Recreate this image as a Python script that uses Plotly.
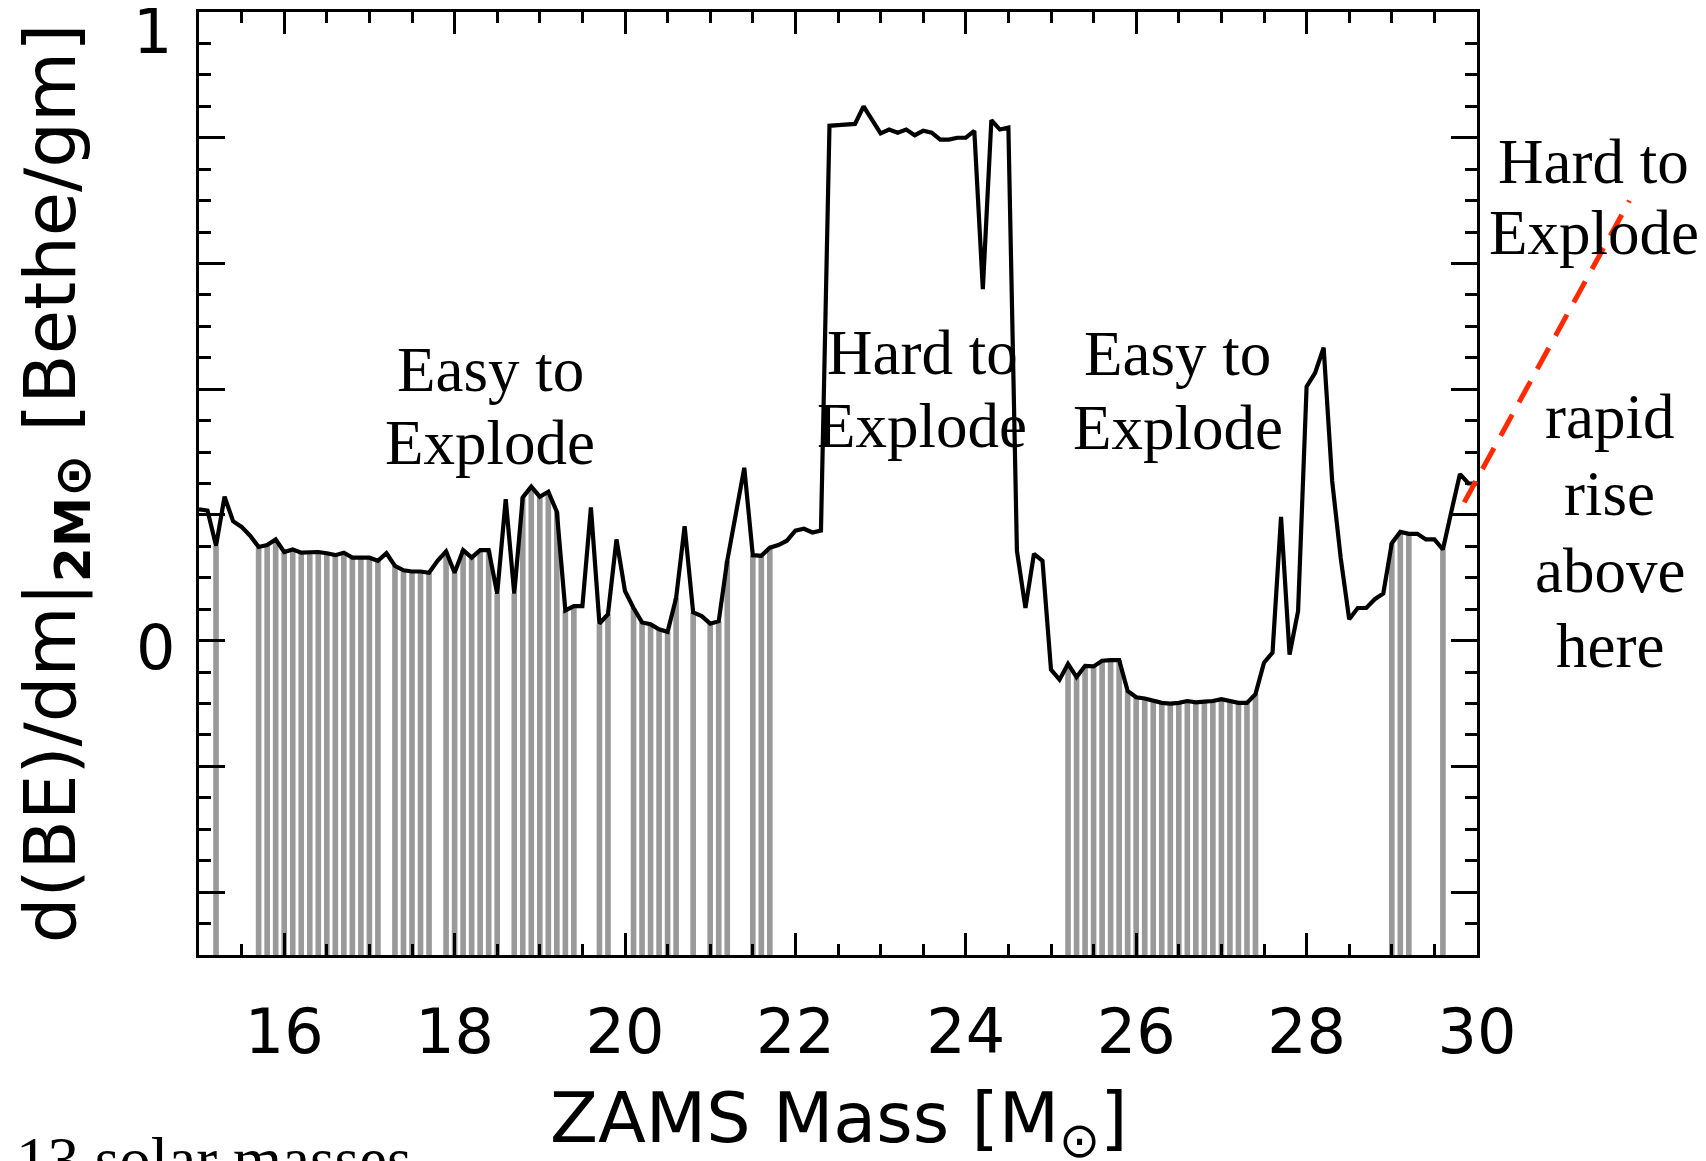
import plotly.graph_objects as go

# ---------------- data ----------------
mass = [
    15.0, 15.1, 15.2, 15.3, 15.4, 15.5, 15.6, 15.7, 15.8, 15.9,
    16.0, 16.1, 16.2, 16.3, 16.4, 16.5, 16.6, 16.7, 16.8, 16.9,
    17.0, 17.1, 17.2, 17.3, 17.4, 17.5, 17.6, 17.7, 17.8, 17.9,
    18.0, 18.1, 18.2, 18.3, 18.4, 18.5, 18.6, 18.7, 18.8, 18.9,
    19.0, 19.1, 19.2, 19.3, 19.4, 19.5, 19.6, 19.7, 19.8, 19.9,
    20.0, 20.1, 20.2, 20.3, 20.4, 20.5, 20.6, 20.7, 20.8, 20.9,
    21.0, 21.1, 21.2, 21.3, 21.4, 21.5, 21.6, 21.7, 21.8, 21.9,
    22.0, 22.1, 22.2, 22.3, 22.4, 22.5, 22.6, 22.7, 22.8, 22.9,
    23.0, 23.1, 23.2, 23.3, 23.4, 23.5, 23.6, 23.7, 23.8, 23.9,
    24.0, 24.1, 24.2, 24.3, 24.4, 24.5, 24.6, 24.7, 24.8, 24.9,
    25.0, 25.1, 25.2, 25.3, 25.4, 25.5, 25.6, 25.7, 25.8, 25.9,
    26.0, 26.1, 26.2, 26.3, 26.4, 26.5, 26.6, 26.7, 26.8, 26.9,
    27.0, 27.1, 27.2, 27.3, 27.4, 27.5, 27.6, 27.7, 27.8, 27.9,
    28.0, 28.1, 28.2, 28.3, 28.4, 28.5, 28.6, 28.7, 28.8, 28.9,
    29.0, 29.1, 29.2, 29.3, 29.4, 29.5, 29.6, 29.7, 29.8, 29.9,
    30.0,
]

dbe_dm = [
    0.209, 0.207, 0.151, 0.229, 0.190, 0.181, 0.167, 0.149, 0.152, 0.161,
    0.141, 0.145, 0.140, 0.140, 0.141, 0.139, 0.136, 0.140, 0.132, 0.132,
    0.132, 0.127, 0.139, 0.119, 0.112, 0.110, 0.110, 0.108, 0.127, 0.142,
    0.108, 0.144, 0.132, 0.144, 0.144, 0.075, 0.225, 0.075, 0.228, 0.245,
    0.229, 0.237, 0.205, 0.048, 0.055, 0.055, 0.212, 0.027, 0.042, 0.161,
    0.079, 0.052, 0.029, 0.026, 0.018, 0.014, 0.068, 0.182, 0.045, 0.039,
    0.027, 0.031, 0.127, 0.201, 0.275, 0.136, 0.135, 0.148, 0.152, 0.159,
    0.175, 0.178, 0.172, 0.175, 0.819, 0.820, 0.821, 0.822, 0.850, 0.828,
    0.807, 0.813, 0.808, 0.813, 0.804, 0.811, 0.808, 0.797, 0.797, 0.800,
    0.800, 0.811, 0.559, 0.828, 0.813, 0.816, 0.143, 0.052, 0.138, 0.127,
    -0.046, -0.062, -0.037, -0.058, -0.040, -0.041, -0.032, -0.031, -0.031, -0.080,
    -0.090, -0.092, -0.095, -0.099, -0.100, -0.099, -0.096, -0.098, -0.097, -0.096,
    -0.093, -0.096, -0.099, -0.099, -0.085, -0.035, -0.019, 0.197, -0.022, 0.047,
    0.404, 0.426, 0.466, 0.254, 0.132, 0.034, 0.052, 0.052, 0.066, 0.075,
    0.155, 0.173, 0.170, 0.170, 0.161, 0.161, 0.145, 0.206, 0.265, 0.250,
    0.250,
]

# masses that are marked with grey bars
exploded = [
    15.2,
    15.7, 15.8, 15.9, 16.0, 16.1, 16.2, 16.3, 16.4, 16.5, 16.6, 16.7, 16.8, 16.9, 17.0, 17.1,
    17.3, 17.4, 17.5, 17.6, 17.7,
    17.9, 18.0, 18.1, 18.2, 18.3, 18.4, 18.5,
    18.7, 18.8, 18.9, 19.0, 19.1, 19.2, 19.3, 19.4,
    19.7, 19.8,
    20.1, 20.2, 20.3, 20.4, 20.5, 20.6,
    20.8,
    21.0, 21.1, 21.2,
    21.5, 21.6, 21.7,
    25.2, 25.3, 25.4, 25.5, 25.6, 25.7, 25.8, 25.9, 26.0, 26.1, 26.2, 26.3,
    26.4, 26.5, 26.6, 26.7, 26.8, 26.9, 27.0, 27.1, 27.2, 27.3, 27.4,
    29.0, 29.1, 29.2,
    29.6,
]

x_tick_values = [16, 18, 20, 22, 24, 26, 28, 30]
y_tick_labels = ["0", "1"]
y_tick_values = [0.0, 1.0]

x_range = [15.0, 30.0]
y_range = [-0.5, 1.0]

# dashed "rapid rise" guide: start/end in data units
rise_x = [29.85, 31.79]
rise_y = [0.22, 0.70]

region_labels = [
    ("Easy to", 18.42, 0.620),
    ("Explode", 18.41, 0.543),
    ("Hard to", 23.49, 0.638),
    ("Explode", 23.49, 0.561),
    ("Easy to", 26.48, 0.637),
    ("Explode", 26.49, 0.559),
]
right_labels = [
    ("Hard to", 1.0915, 0.841),
    ("Explode", 1.0915, 0.766),
    ("rapid", 1.104, 0.570),
    ("rise", 1.104, 0.489),
    ("above", 1.104, 0.407),
    ("here", 1.104, 0.328),
]

x_title = "ZAMS Mass [M<sub>⊙</sub>]"
y_title = "d(BE)/dm|<sub><b>2M⊙</b></sub> [Bethe/gm]"

# ---------------- figure ----------------
lookup = {round(m, 1): v for m, v in zip(mass, dbe_dm)}
bar_tops = [lookup[round(m, 1)] for m in exploded]

fig = go.Figure()
fig.add_trace(go.Bar(
    x=exploded,
    y=[v - y_range[0] for v in bar_tops],
    base=y_range[0],
    width=0.066,
    marker=dict(color="#999999", line=dict(width=0)),
    hoverinfo="skip",
    showlegend=False,
))
fig.add_trace(go.Scatter(
    x=mass, y=dbe_dm, mode="lines",
    line=dict(color="black", width=4.2),
    showlegend=False,
))

serif = "Liberation Serif, Times New Roman, serif"
sans = "DejaVu Sans, sans-serif"

annotations = []
for txt, xv, yp in region_labels:
    annotations.append(dict(text=txt, x=xv, y=yp, xref="x", yref="paper",
                            showarrow=False, xanchor="center", yanchor="middle",
                            font=dict(family=serif, size=63, color="black")))
for txt, xp, yp in right_labels:
    annotations.append(dict(text=txt, x=xp, y=yp, xref="paper", yref="paper",
                            showarrow=False, xanchor="center", yanchor="middle",
                            font=dict(family=serif, size=63, color="black")))
# y tick labels (only 0 and 1 are labelled)
for lab, yv, ysh, xp in zip(y_tick_labels, y_tick_values, [-7, -19], [-0.0344, -0.036]):
    annotations.append(dict(text=lab, x=xp, y=yv, xref="paper", yref="y", yshift=ysh,
                            showarrow=False, xanchor="center", yanchor="middle",
                            font=dict(family=sans, size=62, color="black")))
# x axis title
annotations.append(dict(text=x_title, x=0.5, y=-0.178, xref="paper", yref="paper",
                        showarrow=False, xanchor="center", yanchor="middle",
                        font=dict(family=sans, size=70, color="black")))
# partly visible caption at the bottom-left
annotations.append(dict(text="13 solar masses", x=-0.145, y=-0.217, xref="paper", yref="paper",
                        showarrow=False, xanchor="left", yanchor="middle",
                        font=dict(family=serif, size=63, color="black")))

px0 = (rise_x[0] - x_range[0]) / (x_range[1] - x_range[0])
px1 = (rise_x[1] - x_range[0]) / (x_range[1] - x_range[0])
py0 = (rise_y[0] - y_range[0]) / (y_range[1] - y_range[0])
py1 = (rise_y[1] - y_range[0]) / (y_range[1] - y_range[0])

fig.update_layout(
    width=1698, height=1153,
    autosize=False,
    margin=dict(l=191, r=229, t=4, b=206, pad=0),
    paper_bgcolor="white", plot_bgcolor="white",
    barmode="overlay",
    showlegend=False,
    annotations=annotations,
    shapes=[dict(type="line", xref="paper", yref="paper",
                 x0=px0, y0=py0, x1=px1, y1=py1,
                 line=dict(color="#ff2a00", width=5, dash="24px,14px"))],
    xaxis=dict(
        range=x_range, showgrid=False, zeroline=False,
        showline=True, linecolor="black", linewidth=2.7, mirror="ticks",
        ticks="inside", tickmode="array", tickvals=x_tick_values,
        ticktext=[str(v) for v in x_tick_values],
        ticklen=22, tickwidth=2.5, tickcolor="black",
        minor=dict(dtick=0.5, tick0=15, ticks="inside", ticklen=11, tickwidth=2.5,
                   tickcolor="black", showgrid=False),
        tickfont=dict(family=sans, size=62, color="black"),
        ticklabelstandoff=21,
        automargin=False,
    ),
    yaxis=dict(
        range=y_range, showgrid=False, zeroline=False,
        showline=True, linecolor="black", linewidth=2.7, mirror="ticks",
        ticks="inside", tick0=0, dtick=0.2, ticklen=26, tickwidth=2.5, tickcolor="black",
        minor=dict(dtick=0.05, tick0=0, ticks="inside", ticklen=12, tickwidth=2.5,
                   tickcolor="black", showgrid=False),
        showticklabels=False,
        title=dict(text=y_title,
                   font=dict(family=sans, size=72, color="black"), standoff=98),
        automargin=False,
    ),
)

fig.write_html("out.html")
